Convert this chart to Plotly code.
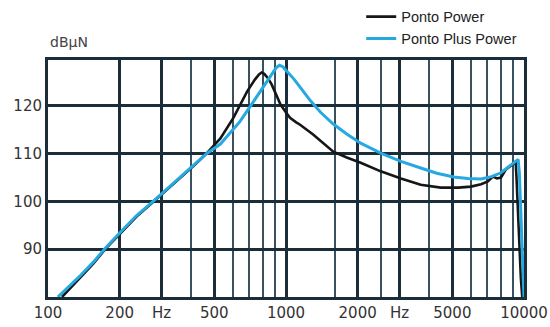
import plotly.graph_objects as go

# Output force level (dB re 1 µN) versus frequency for the two sound processors
ponto_power_hz = [114.5, 135, 155, 174, 200, 235, 278, 320, 370, 415, 463, 530, 601,
                  686, 740, 770, 790, 810, 840, 870, 910, 950, 1000, 1040, 1100, 1150,
                  1300, 1450, 1580, 1800, 2060, 2500, 3040, 3680, 4470, 5300, 5980, 6600,
                  7050, 7400, 7700, 8000, 8400, 8820, 9100, 9230, 9300, 9400, 9500, 9600,
                  9700, 9830]
ponto_power_db = [80, 83.8, 87, 90, 93.2, 96.8, 100, 102.7, 105.5, 107.7, 110, 113.2, 117.5,
                  123, 125.5, 126.6, 127, 126.7, 125.8, 124.5, 122.3, 120.2, 118.6, 117.5, 116.6, 116,
                  114, 112, 110.4, 109.2, 108.1, 106.3, 104.8, 103.5, 102.9, 102.9, 103.1, 103.6,
                  104.2, 105.2, 104.8, 105, 106.7, 107.5, 108.1, 108.2, 105, 99, 94, 89,
                  84, 80]

ponto_plus_power_hz = [110, 135, 155, 174, 200, 235, 278, 320, 370, 415, 463, 530, 640,
                       730, 835, 880, 910, 940, 970, 1010, 1080, 1150, 1270, 1400, 1580,
                       1800, 2060, 2500, 3040, 3680, 4300, 5070, 5800, 6590, 7300, 8000,
                       8600, 9080, 9450, 9560, 9680, 9800, 9900, 10000]
ponto_plus_power_db = [80, 84.2, 87.3, 90.2, 93.4, 97, 100.1, 102.8, 105.6, 107.7, 110, 112, 116.7,
                       120.9, 125.4, 126.9, 128, 128.5, 128.2, 127.2, 125.6, 123.8, 121.0, 118.6, 116.2,
                       114.1, 112.2, 110.1, 108.4, 107, 105.9, 105.1, 104.8, 104.7, 105.2, 106,
                       107.2, 108.3, 108.8, 106, 99, 92, 86, 80]

# Axis ticks: labelled frequencies (with "Hz" markers) and level ticks
x_tick_vals = [100, 200, 300, 500, 1000, 2000, 3000, 5000, 10000]
x_tick_text = ["100", "200", "Hz", "500", "1000", "2000", "Hz", "5000", "10000"]
x_minor_vals = [400, 600, 700, 800, 900, 1600, 2500, 4000, 6000, 7000, 8000, 9000]
y_tick_vals = [90, 100, 110, 120]

DARK = "#1b2d39"
SLATE = "#38505f"

fig = go.Figure()
fig.add_trace(go.Scatter(
    x=ponto_power_hz, y=ponto_power_db, mode="lines", name="Ponto Power",
    line=dict(color="#161616", width=2.6),
))
fig.add_trace(go.Scatter(
    x=ponto_plus_power_hz, y=ponto_plus_power_db, mode="lines", name="Ponto Plus Power",
    line=dict(color="#25a9e0", width=3),
))

tick_font = dict(family="DejaVu Sans", size=15, color="#333333")

fig.update_layout(
    width=550, height=327,
    margin=dict(l=48, r=26, t=60, b=30, autoexpand=False),
    paper_bgcolor="white", plot_bgcolor="white",
    showlegend=True,
    legend=dict(
        x=0.658, y=1.25, xanchor="left", yanchor="top",
        font=dict(family="Liberation Sans, Arial", size=14.5, color="#222222"),
        bgcolor="rgba(0,0,0,0)", itemwidth=30,
    ),
    xaxis=dict(
        type="log", range=[2, 4],
        tickmode="array", tickvals=x_tick_vals, ticktext=x_tick_text,
        tickfont=tick_font, ticks="", showgrid=True,
        gridcolor=DARK, gridwidth=2.6,
        minor=dict(tickmode="array", tickvals=x_minor_vals, showgrid=True,
                   gridcolor=SLATE, gridwidth=2.3, ticks=""),
        showline=True, linecolor=DARK, linewidth=3, mirror=True,
        zeroline=False, fixedrange=True, automargin=False,
    ),
    yaxis=dict(
        range=[80, 129.6],
        tickmode="array", tickvals=y_tick_vals,
        tickfont=tick_font, ticks="", showgrid=True,
        gridcolor=DARK, gridwidth=3,
        showline=True, linecolor=DARK, linewidth=3, mirror=True,
        zeroline=False, fixedrange=True, automargin=False,
    ),
    annotations=[dict(
        text="dBµN", xref="paper", yref="paper", x=0, y=1.035,
        xanchor="left", yanchor="bottom", showarrow=False,
        font=dict(family="DejaVu Sans", size=14, color="#444444"),
    )],
)

fig.write_html("out.html")
